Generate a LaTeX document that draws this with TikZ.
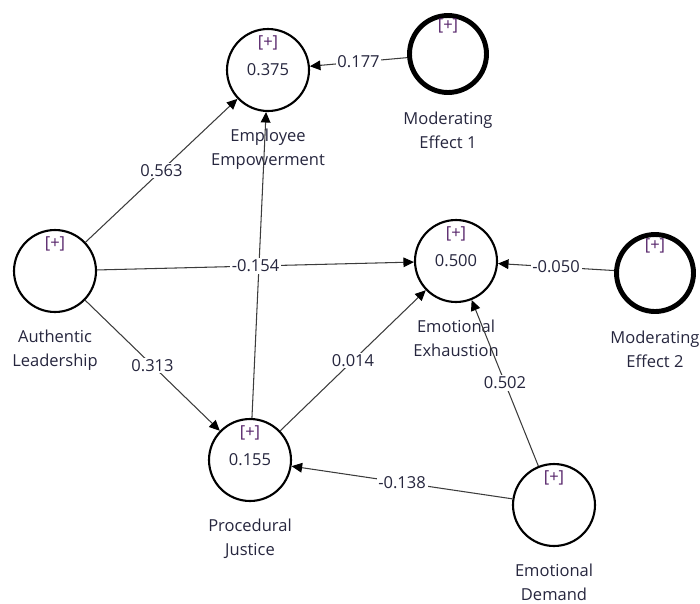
\documentclass[tikz,border=0pt]{standalone}
\usepackage{fontspec}
\setmainfont{Open Sans}
\usetikzlibrary{arrows.meta,positioning}
\definecolor{plstext}{RGB}{38,38,62}
\definecolor{plsplus}{RGB}{85,35,105}
\definecolor{plsline}{RGB}{60,60,60}

\begin{document}
\begin{tikzpicture}[
  x=0.02cm, y=-0.02cm,
  font=\fontsize{9.4}{13.6}\selectfont,
  lv/.style={circle, draw=black, line width=1.2pt, minimum size=1.64cm,
             inner sep=0pt, text=plstext},
  modlv/.style={lv, line width=2.8pt, minimum size=1.54cm},
  plus/.style={text=plsplus, inner sep=0pt},
  lvname/.style={align=center, text=plstext, inner sep=1pt},
  pth/.style={-{Triangle[length=6pt,width=5.5pt,color=black]}, draw=plsline, line width=0.6pt},
  coef/.style={midway, fill=white, inner sep=1pt, text=plstext}
]
\useasboundingbox (0,0) rectangle (700,603);

% --- Latent variables ---
\node[lv]    (ee)  at (268,70)  {0.375};
\node[modlv] (me1) at (448,54)  {};
\node[lv]    (al)  at (55,271)  {};
\node[lv]    (ex)  at (456,261) {0.500};
\node[modlv] (me2) at (655,273) {};
\node[lv]    (pj)  at (250,460) {0.155};
\node[lv]    (ed)  at (554,505) {};

% --- [+] markers ---
\node[plus] (eeplus)  at ([yshift=0.54cm]ee.center)  {[+]};
\node[plus] (me1plus) at ([yshift=0.56cm]me1.center) {[+]};
\node[plus] (alplus)  at ([yshift=0.54cm]al.center)  {[+]};
\node[plus] (explus)  at ([yshift=0.54cm]ex.center)  {[+]};
\node[plus] (me2plus) at ([yshift=0.54cm]me2.center) {[+]};
\node[plus] (pjplus)  at ([yshift=0.54cm]pj.center)  {[+]};
\node[plus] (edplus)  at ([yshift=0.54cm]ed.center)  {[+]};

% --- Names ---
\node[lvname, below=3mm of ee]  (eename)  {Employee\\Empowerment};
\node[lvname, below=3mm of me1] (me1name) {Moderating\\Effect 1};
\node[lvname, below=3mm of al]  (alname)  {Authentic\\Leadership};
\node[lvname, below=3mm of ex]  (exname)  {Emotional\\Exhaustion};
\node[lvname, below=3mm of me2] (me2name) {Moderating\\Effect 2};
\node[lvname, below=3mm of pj]  (pjname)  {Procedural\\Justice};
\node[lvname, below=3mm of ed]  (edname)  {Emotional\\Demand};

% --- Paths ---
\draw[pth] (pj)  -- (ee);
\draw[pth] (al)  -- node[coef] {0.563}  (ee);
\draw[pth] (al)  -- node[coef] {-0.154} (ex);
\draw[pth] (al)  -- node[coef] {0.313}  (pj);
\draw[pth] (pj)  -- node[coef] {0.014}  (ex);
\draw[pth] (ed)  -- node[coef] {0.502}  (ex);
\draw[pth] (ed)  -- node[coef] {-0.138} (pj);
\draw[pth] (me1) -- node[coef] {0.177}  (ee);
\draw[pth] (me2) -- node[coef] {-0.050} (ex);

\end{tikzpicture}
\end{document}
